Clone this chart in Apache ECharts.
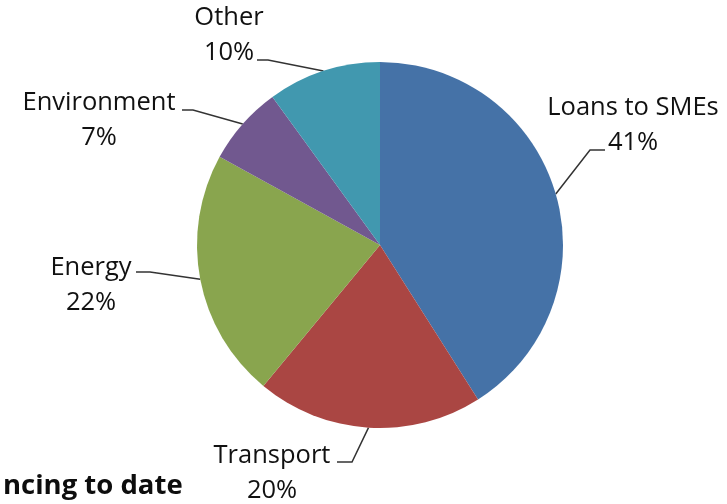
<!DOCTYPE html>
<html>
<head>
<meta charset="utf-8">
<script src="https://cdn.jsdelivr.net/npm/echarts@6/dist/echarts.min.js"></script>
<style>
  html, body { margin: 0; padding: 0; background: #ffffff; }
  #chart { width: 727px; height: 504px; }
</style>
</head>
<body>
<div id="chart"></div>
<script>
// ---- data ----
const categories = ['Loans to SMEs', 'Transport', 'Energy', 'Environment', 'Other'];
const shares = [41, 20, 22, 7, 10];
const titleText = 'ncing to date';

// ---- styling / layout (not data) ----
const colors = ['#4572A7', '#AA4643', '#89A54E', '#71588F', '#4198AF'];
const PIE_CENTER = [380, 245];
const PIE_RADIUS = 183;
// label block centre, leader bend point and leader end point
const labelLayoutCfg = [
  { c: [633, 125], bend: [590, 150], end: [605, 150] },
  { c: [272, 473], bend: [352, 462], end: [337, 462] },
  { c: [91, 285],  bend: [150, 272], end: [136, 272] },
  { c: [99, 120],  bend: [193, 110], end: [182, 110] },
  { c: [229, 35],  bend: [268, 60],  end: [257, 60] }
];

const total = shares.reduce((a, b) => a + b, 0);
function edgePoint(idx) {
  let before = 0;
  for (let i = 0; i < idx; i++) before += shares[i];
  const mid = (before + shares[idx] / 2) / total * Math.PI * 2;
  return [PIE_CENTER[0] + PIE_RADIUS * Math.sin(mid), PIE_CENTER[1] - PIE_RADIUS * Math.cos(mid)];
}

const chart = echarts.init(document.getElementById('chart'), null, { renderer: 'canvas' });
chart.setOption({
  animation: false,
  backgroundColor: '#ffffff',
  color: colors,
  title: {
    text: titleText,
    left: -2,
    top: 467,
    textStyle: { fontFamily: 'Open Sans', fontWeight: 'bold', fontSize: 27.5, color: '#0d0d0d' }
  },
  series: [{
    type: 'pie',
    center: PIE_CENTER,
    radius: PIE_RADIUS,
    startAngle: 90,
    clockwise: true,
    avoidLabelOverlap: false,
    itemStyle: { borderWidth: 0 },
    emphasis: { disabled: true },
    label: {
      show: true,
      position: 'outside',
      formatter: '{b}\n{d}%',
      fontFamily: 'Open Sans',
      fontSize: 25.5,
      lineHeight: 35,
      color: '#111111'
    },
    labelLine: {
      show: true,
      length: 20,
      length2: 10,
      lineStyle: { color: '#333333', width: 1.5 }
    },
    labelLayout: function (p) {
      const cfg = labelLayoutCfg[p.dataIndex];
      const e = (p.labelLinePoints && p.labelLinePoints[0]) ? p.labelLinePoints[0] : edgePoint(p.dataIndex);
      return {
        x: cfg.c[0],
        y: cfg.c[1],
        align: 'center',
        verticalAlign: 'middle',
        labelLinePoints: [[e[0], e[1]], cfg.bend, cfg.end]
      };
    },
    data: categories.map((name, i) => ({ name: name, value: shares[i] }))
  }]
});
</script>
</body>
</html>
